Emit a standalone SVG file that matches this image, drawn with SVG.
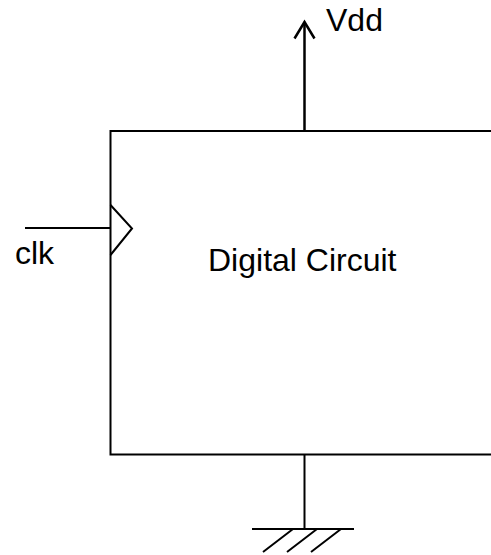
<svg xmlns="http://www.w3.org/2000/svg" width="491" height="555" viewBox="0 0 491 555">
<style>
.l{fill:none;stroke:#000;stroke-width:2}
.a{stroke-width:2.500}
.t{font-family:"Liberation Sans",Arial,sans-serif;font-size:32px;fill:#000}
</style>
<rect width="491" height="555" fill="#fff"/>
<g id="circuit">
<path class="l" d="M491 131H110.500V454.500H491"/>
<path class="l" d="M110.500 205L132 228.500L110.500 255"/>
<text class="t" x="208" y="271">Digital Circuit</text>
</g>
<g id="vdd"><text class="t" x="326" y="31">Vdd</text></g>
<g id="clk"><text class="t" x="15" y="264">clk</text></g>
<g id="ground"><path class="l" d="M252 529H354M293 529L263 552M317 529L287 552M341 529L311 552"/></g>
<g id="connectors">
<path class="l a" d="M304.500 131V22"/>
<path class="l a" d="M294.500 38.500L304.500 22L314.500 38.500"/>
<path class="l" d="M25 228H110"/>
<path class="l" d="M304.500 454V529"/>
</g>
</svg>
